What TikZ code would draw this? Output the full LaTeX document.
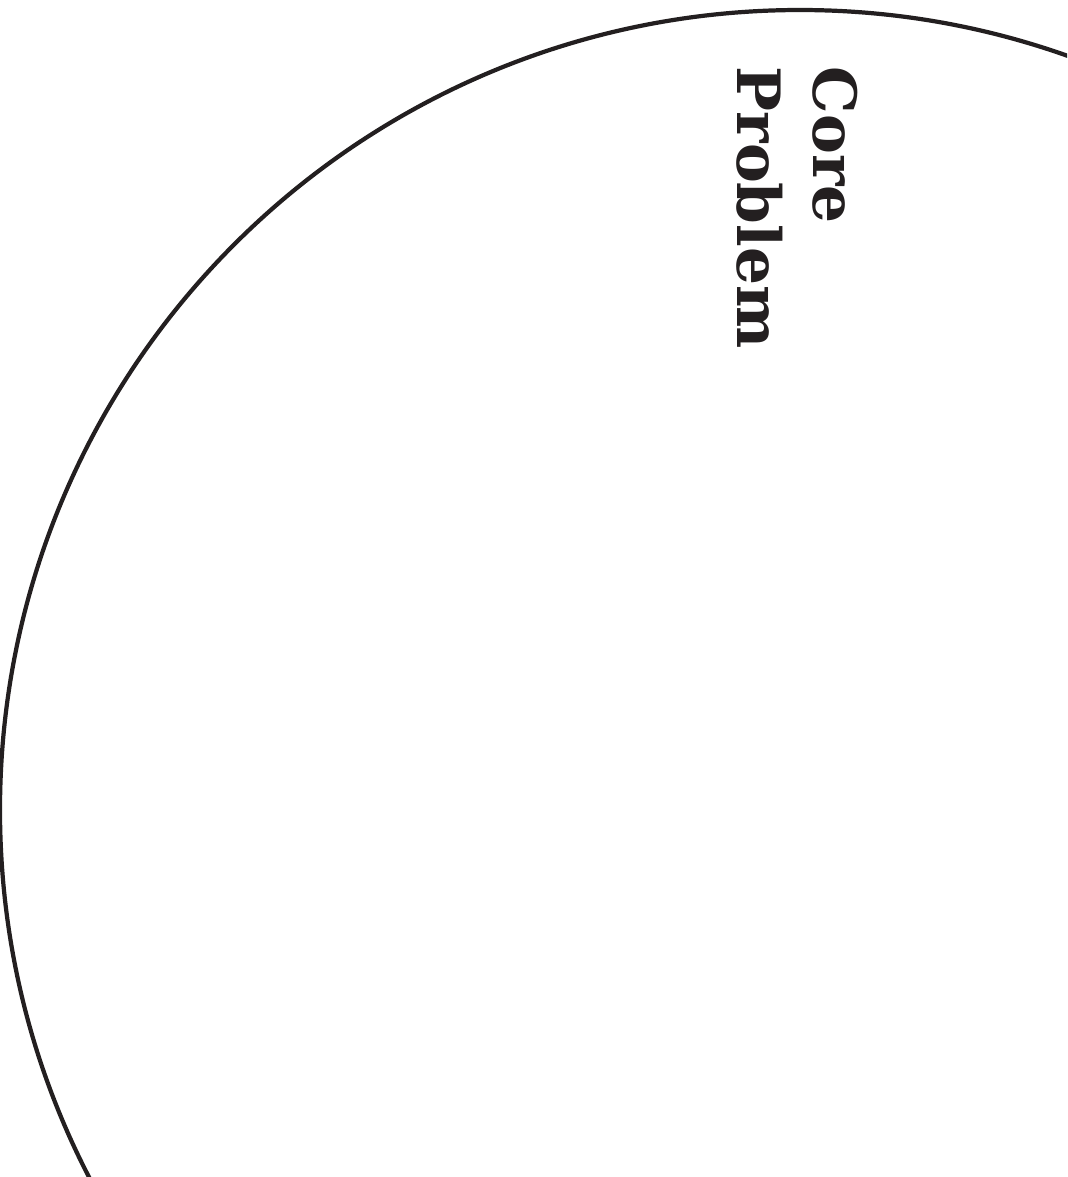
\documentclass[tikz,border=0pt]{standalone}
\usepackage{fontspec}
\setmainfont{DejaVu Serif}
\usetikzlibrary{positioning}
\definecolor{inkcol}{HTML}{231F20}

\begin{document}
\begin{tikzpicture}[x=1cm,y=1cm,
  ring/.style={draw=inkcol,line width=1.2pt},
  title/.style={inkcol,font=\bfseries\fontsize{17}{20}\selectfont,rotate=-90,anchor=base west,inner sep=0pt}]
\useasboundingbox (0,0) rectangle (10.67,-11.77);
% outer ring, cut by the page
\begin{scope}
\clip (0,0) rectangle (10.67,-11.77);
\draw[ring] (8.00,-8.10) circle (8.00);
\end{scope}
% rotated label
\node[title] (core) at (8.13,-0.66) {Core};
\node[title] (problem) at (7.37,-0.66) {Problem};
\end{tikzpicture}
\end{document}
